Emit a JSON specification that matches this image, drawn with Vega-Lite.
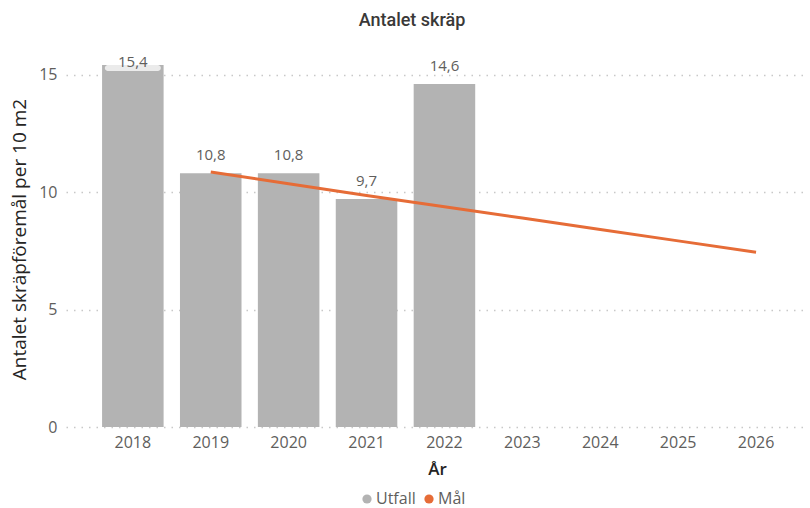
{
  "$schema": "https://vega.github.io/schema/vega-lite/v6.json",
  "autosize": {"type": "none"},
  "width": 742,
  "height": 376,
  "padding": {"left": 66, "top": 51, "right": 2, "bottom": 81},
  "background": "white",
  "config": {"view": {"stroke": null}},
  "title": {"text": "Antalet skräp", "font": "Roboto", "fontSize": 18, "fontWeight": 500, "color": "#3a3938", "offset": 21, "dx": -25, "anchor": "middle"},
  "data": {"values": [
    {"year": "2018", "serie": "Utfall", "value": 15.4, "label": "15,4"},
    {"year": "2019", "serie": "Utfall", "value": 10.8, "label": "10,8"},
    {"year": "2020", "serie": "Utfall", "value": 10.8, "label": "10,8"},
    {"year": "2021", "serie": "Utfall", "value": 9.7, "label": "9,7"},
    {"year": "2022", "serie": "Utfall", "value": 14.6, "label": "14,6"},
    {"year": "2019", "serie": "Mål", "value": 10.85},
    {"year": "2020", "serie": "Mål", "value": 10.35},
    {"year": "2021", "serie": "Mål", "value": 9.85},
    {"year": "2022", "serie": "Mål", "value": 9.37},
    {"year": "2023", "serie": "Mål", "value": 8.89},
    {"year": "2024", "serie": "Mål", "value": 8.4},
    {"year": "2025", "serie": "Mål", "value": 7.92},
    {"year": "2026", "serie": "Mål", "value": 7.44}
  ]},
  "encoding": {
    "x": {
      "field": "year", "type": "ordinal",
      "scale": {"domain": ["2018","2019","2020","2021","2022","2023","2024","2025","2026"], "paddingInner": 0.21, "paddingOuter": 0.3675, "align": 0.63},
      "axis": {"title": "År", "labelAngle": 0, "domain": false, "ticks": false, "labelPadding": 7, "labelFont": "Open Sans", "labelFontSize": 16, "labelColor": "#605e5c", "titleFont": "Open Sans", "titleFontSize": 17, "titleFontWeight": 600, "titleColor": "#252423", "titlePadding": 11}
    }
  },
  "layer": [
    {
      "transform": [{"filter": "datum.serie === 'Utfall'"}],
      "mark": {"type": "bar", "color": "#b3b3b3"},
      "encoding": {
        "y": {"field": "value", "type": "quantitative",
          "scale": {"domain": [0, 16], "nice": false},
          "axis": {"title": "Antalet skräpföremål per 10 m2", "values": [0, 5, 10, 15], "domain": false, "ticks": false, "labelPadding": 9, "labelFont": "Open Sans", "labelFontSize": 16, "labelColor": "#605e5c", "titleFont": "Open Sans", "titleFontSize": 19, "titleFontWeight": 400, "titleColor": "#252423", "titlePadding": 9, "grid": true, "gridDash": [1.5, 6], "gridColor": "#c8c8c8", "gridWidth": 1.5}
        },
        "color": {"field": "serie", "type": "nominal",
          "scale": {"domain": ["Utfall", "Mål"], "range": ["#b3b3b3", "#e66c37"]},
          "legend": {"title": null, "orient": "none", "legendX": 293, "legendY": 440, "direction": "horizontal", "symbolType": "circle", "symbolSize": 85, "symbolStrokeWidth": 0, "labelFont": "Open Sans", "labelFontSize": 16, "labelColor": "#605e5c", "columnPadding": 5, "labelOffset": 1}
        }
      }
    },
    {
      "transform": [{"filter": "datum.serie === 'Utfall' && datum.value >= 15"}],
      "mark": {"type": "tick", "color": "#ebebeb", "thickness": 6, "size": 56, "yOffset": 3, "cornerRadius": 3, "opacity": 1},
      "encoding": {
        "y": {"field": "value", "type": "quantitative"}
      }
    },
    {
      "transform": [{"filter": "datum.serie === 'Utfall' && datum.value < 15"}],
      "mark": {"type": "text", "dy": -18, "font": "Open Sans", "fontSize": 15, "color": "#605e5c"},
      "encoding": {
        "y": {"field": "value", "type": "quantitative"},
        "text": {"field": "label"}
      }
    },
    {
      "transform": [{"filter": "datum.serie === 'Utfall' && datum.value >= 15"}],
      "mark": {"type": "text", "dy": -3, "font": "Open Sans", "fontSize": 15, "color": "#605e5c"},
      "encoding": {
        "y": {"field": "value", "type": "quantitative"},
        "text": {"field": "label"}
      }
    },
    {
      "transform": [{"filter": "datum.serie === 'Mål'"}],
      "mark": {"type": "line", "color": "#e66c37", "strokeWidth": 3},
      "encoding": {
        "y": {"field": "value", "type": "quantitative"}
      }
    }
  ]
}
